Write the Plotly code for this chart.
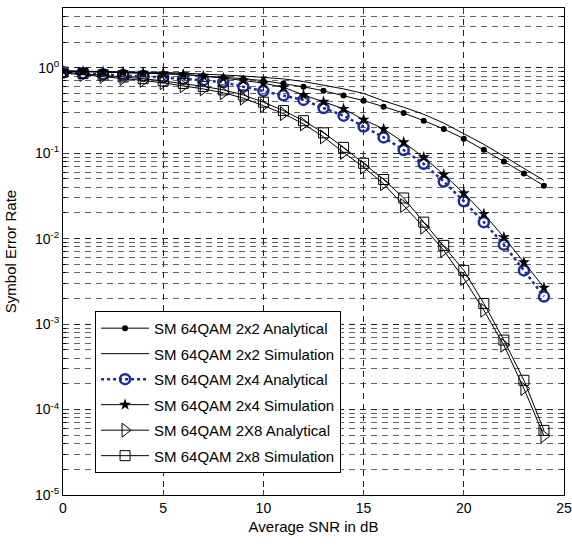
import plotly.graph_objects as go

snr_db = list(range(0, 25))

ser_2x2_analytical = [0.91, 0.90, 0.89, 0.88, 0.865, 0.85, 0.83, 0.805, 0.775, 0.745, 0.705,
                      0.656, 0.598, 0.537, 0.474, 0.412, 0.350, 0.295, 0.240, 0.192, 0.148,
                      0.110, 0.080, 0.058, 0.0415]
ser_2x2_simulation = [0.92, 0.915, 0.91, 0.90, 0.89, 0.88, 0.865, 0.845, 0.82, 0.80, 0.77,
                      0.74, 0.69, 0.63, 0.565, 0.50, 0.41, 0.345, 0.285, 0.225, 0.17,
                      0.127, 0.092, 0.067, 0.048]
ser_2x4_analytical = [0.88, 0.86, 0.84, 0.82, 0.80, 0.77, 0.74, 0.715, 0.675, 0.60, 0.535,
                      0.475, 0.42, 0.338, 0.275, 0.205, 0.153, 0.109, 0.075, 0.0466, 0.0274,
                      0.0156, 0.0085, 0.00425, 0.0021]
ser_2x4_simulation = [0.92, 0.91, 0.90, 0.89, 0.875, 0.86, 0.84, 0.80, 0.755, 0.71, 0.66,
                      0.59, 0.48, 0.40, 0.33, 0.247, 0.192, 0.134, 0.0895, 0.0562, 0.034,
                      0.0195, 0.0104, 0.0053, 0.00267]
ser_2x8_analytical = [0.87, 0.83, 0.79, 0.75, 0.71, 0.665, 0.615, 0.565, 0.51, 0.44, 0.36,
                      0.29, 0.22, 0.155, 0.102, 0.0685, 0.0438, 0.0244, 0.0136, 0.00728, 0.0034,
                      0.00145, 0.000565, 0.000176, 0.000049]
ser_2x8_simulation = [0.89, 0.855, 0.82, 0.78, 0.745, 0.70, 0.655, 0.605, 0.55, 0.48, 0.395,
                      0.315, 0.24, 0.173, 0.117, 0.0762, 0.0492, 0.0299, 0.0156, 0.00834, 0.00425,
                      0.00174, 0.00065, 0.00022, 0.000057]

x_ticks = [0, 5, 10, 15, 20, 25]
y_tick_vals = [1e-5, 1e-4, 1e-3, 1e-2, 1e-1, 1]
y_tick_text = ["10<sup>-5</sup>", "10<sup>-4</sup>", "10<sup>-3</sup>", "10<sup>-2</sup>",
               "10<sup>-1</sup>", "10<sup>0</sup>"]
y_minor_vals = [m * 10 ** e for e in range(-5, 1) for m in range(2, 10)]

labels = ["SM 64QAM 2x2 Analytical", "SM 64QAM 2x2 Simulation", "SM 64QAM 2x4 Analytical",
          "SM 64QAM 2x4 Simulation", "SM 64QAM 2X8 Analytical", "SM 64QAM 2x8 Simulation"]

FONT = "Arial, Liberation Sans, sans-serif"
BLUE = "#1c2c98"

fig = go.Figure()

series = [
    (ser_2x2_analytical, dict(color="black", width=1), dict(symbol="circle", size=6, color="black")),
    (ser_2x2_simulation, dict(color="black", width=1), None),
    (ser_2x4_analytical, dict(color=BLUE, width=2.5, dash="dot"),
     dict(symbol="circle-open", size=10, color=BLUE, line=dict(width=2.5, color=BLUE))),
    (ser_2x4_simulation, dict(color="black", width=1), dict(symbol="star", size=9, color="black")),
    (ser_2x8_analytical, dict(color="black", width=1),
     dict(symbol="triangle-right-open", size=12, color="black", line=dict(width=1, color="black"))),
    (ser_2x8_simulation, dict(color="black", width=1),
     dict(symbol="square-open", size=10, color="black", line=dict(width=1, color="black"))),
]

for i, (vals, line, marker) in enumerate(series):
    kw = dict(x=snr_db, y=vals, name=labels[i], line=line, legendgroup=f"g{i}")
    if marker is None:
        kw["mode"] = "lines"
    else:
        kw["mode"] = "lines+markers"
        kw["marker"] = marker
    fig.add_trace(go.Scatter(**kw))

fig.update_layout(
    width=572, height=547,
    margin=dict(l=63, r=8, t=8, b=52),
    paper_bgcolor="white", plot_bgcolor="white",
    font=dict(family=FONT, size=14, color="black"),
    legend=dict(
        x=0.064, y=0.378, xanchor="left", yanchor="top",
        bgcolor="white", bordercolor="black", borderwidth=1,
        font=dict(family=FONT, size=15, color="black"),
        tracegroupgap=3, traceorder="grouped", itemwidth=48,
    ),
    showlegend=True,
)

fig.update_xaxes(
    range=[0, 25], tickvals=x_ticks, ticks="inside", ticklen=5,
    showline=True, linecolor="black", linewidth=1, mirror="ticks",
    showgrid=True, gridcolor="#222", griddash="6px,5px", gridwidth=1,
    zeroline=False, automargin=False, ticklabeloverflow="allow",
    title=dict(text="Average SNR in dB", font=dict(size=15), standoff=6),
    tickfont=dict(size=14),
)

fig.update_yaxes(
    type="log", range=[-5, 0.699],
    tickvals=y_tick_vals, ticktext=y_tick_text,
    ticks="inside", ticklen=5,
    showline=True, linecolor="black", linewidth=1, mirror="ticks",
    showgrid=True, gridcolor="#222", griddash="6px,5px", gridwidth=1,
    minor=dict(tickvals=y_minor_vals, ticks="inside", ticklen=3, tickcolor="black",
               showgrid=True, gridcolor="#666", griddash="6px,5px", gridwidth=1),
    zeroline=False, automargin=False,
    title=dict(text="Symbol Error Rate", font=dict(size=15), standoff=14),
    tickfont=dict(size=14),
)

fig.write_html("out.html", config={"displayModeBar": False},
               post_script="document.body.style.margin='0';document.body.style.overflow='hidden';")
